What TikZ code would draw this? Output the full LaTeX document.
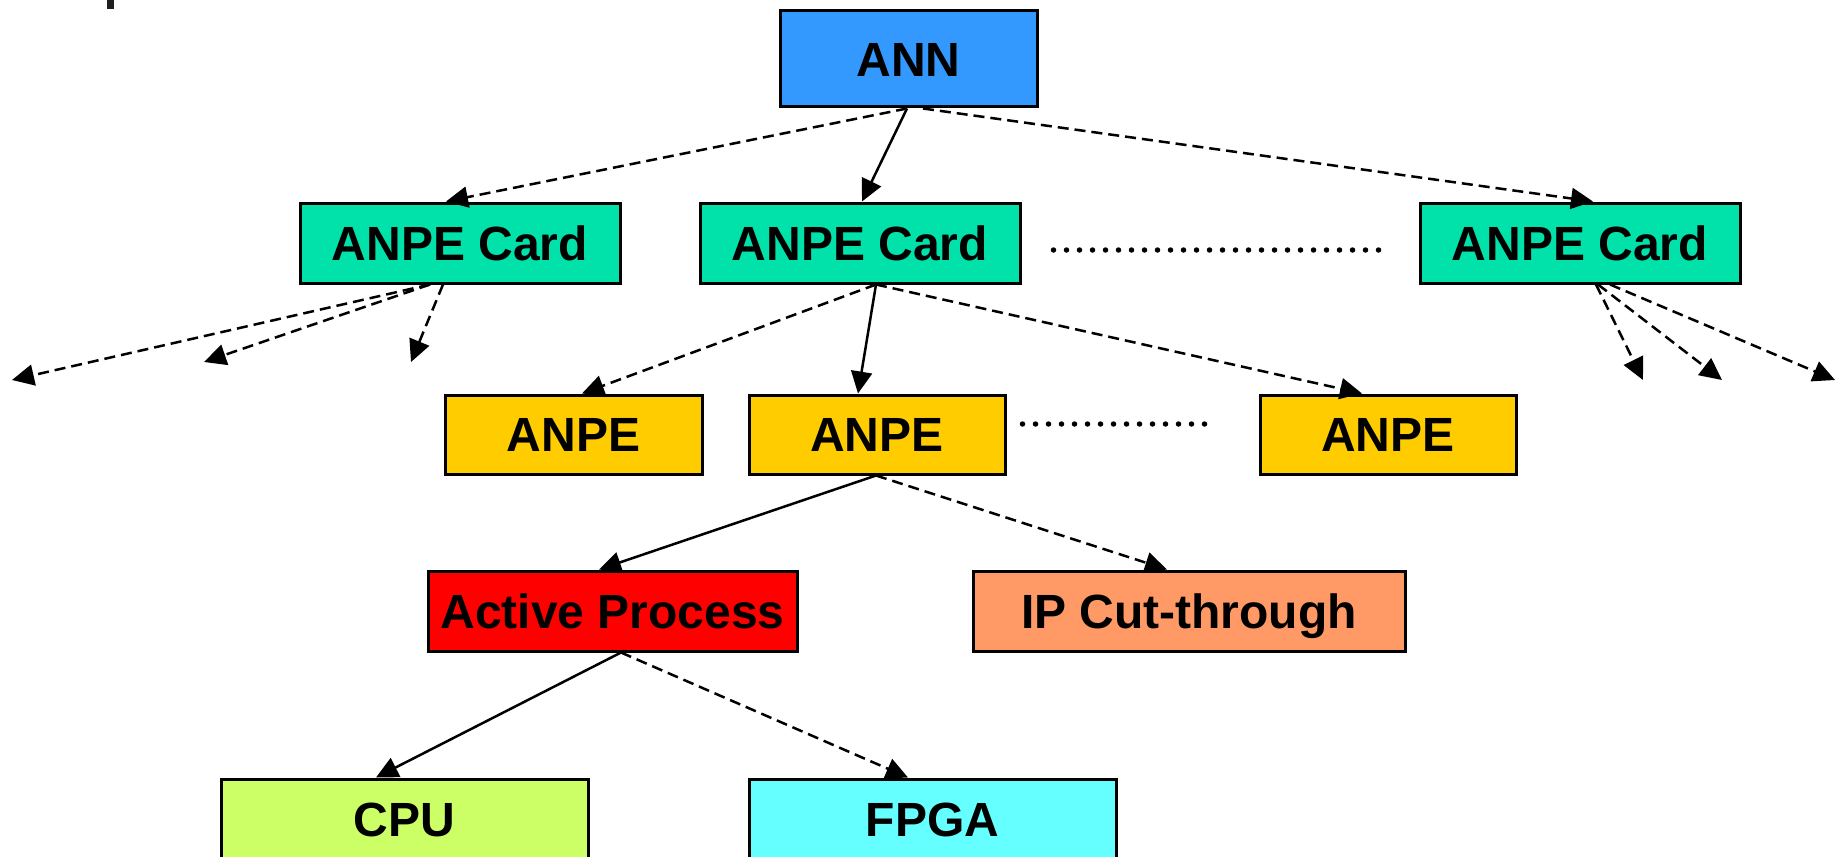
\documentclass[tikz,border=0pt]{standalone}
\usepackage{fontspec}
\setmainfont{Liberation Sans}
\usetikzlibrary{arrows.meta}
\definecolor{annblue}{RGB}{51,153,255}
\definecolor{cardgreen}{RGB}{0,226,170}
\definecolor{anpeyellow}{RGB}{255,204,0}
\definecolor{actred}{RGB}{255,0,0}
\definecolor{iporange}{RGB}{255,153,102}
\definecolor{cpugreen}{RGB}{204,255,102}
\definecolor{fpgacyan}{RGB}{102,255,255}
\tikzset{
  box/.style={draw=black, line width=3pt, rectangle, inner sep=0pt,
    font=\fontsize{48}{58}\selectfont\bfseries, text height=34.5pt, text depth=0pt},
  solidarrow/.style={line width=2.5pt, -{Triangle[length=22pt,width=21pt]}},
  dasharrow/.style={line width=2.5pt, dash pattern=on 11pt off 6pt, -{Triangle[length=22pt,width=21pt]}},
  dotline/.style={line width=5.5pt, line cap=round, dash pattern=on 0pt off 13pt}
}
\begin{document}
\begin{tikzpicture}[x=1pt,y=-1pt]
\useasboundingbox (0,0) rectangle (1843,856);
\fill[black!88] (107,0) rectangle (114,9);
% nodes
\node[box, fill=annblue, minimum width=257pt, minimum height=96pt] (ann) at (908.5,59) {ANN};
\node[box, fill=cardgreen, minimum width=320pt, minimum height=80pt] (card1) at (460,243) {ANPE Card};
\node[box, fill=cardgreen, minimum width=320pt, minimum height=80pt] (card2) at (860,243) {ANPE Card};
\node[box, fill=cardgreen, minimum width=320pt, minimum height=80pt] (card3) at (1580,243) {ANPE Card};
\node[box, fill=anpeyellow, minimum width=257pt, minimum height=79pt] (anpe1) at (573.5,434.5) {ANPE};
\node[box, fill=anpeyellow, minimum width=256pt, minimum height=79pt] (anpe2) at (877,434.5) {ANPE};
\node[box, fill=anpeyellow, minimum width=256pt, minimum height=79pt] (anpe3) at (1388,434.5) {ANPE};
\node[box, fill=actred, minimum width=369pt, minimum height=80pt] (active) at (612.5,611) {Active Process};
\node[box, fill=iporange, minimum width=432pt, minimum height=80pt] (ipcut) at (1189,611) {IP Cut-through};
\node[box, fill=cpugreen, minimum width=367pt, minimum height=80pt] (cpu) at (404.5,819) {CPU};
\node[box, fill=fpgacyan, minimum width=367pt, minimum height=80pt] (fpga) at (932.5,819) {FPGA};
% free ends
\coordinate (l1) at (12,380);
\coordinate (l2) at (204,362);
\coordinate (l3) at (411,362);
\coordinate (r1) at (1643,380);
\coordinate (r2) at (1722,380);
\coordinate (r3) at (1835,380);
% connectors from ANN
\draw[dasharrow] ([xshift=-1.5pt]ann.south) -- ([xshift=-14pt]card1.north);
\draw[solidarrow] ([xshift=-1.5pt]ann.south) -- ([xshift=2pt]card2.north);
\draw[dasharrow] ([xshift=14.5pt]ann.south) -- ([xshift=13pt]card3.north);
% card1 fan-out
\draw[dasharrow] ([xshift=-30pt]card1.south) -- (l1);
\draw[dasharrow] ([xshift=-30pt]card1.south) -- (l2);
\draw[dasharrow] ([xshift=-17pt]card1.south) -- (l3);
% card3 fan-out
\draw[dasharrow] ([xshift=16pt]card3.south) -- (r1);
\draw[dasharrow] ([xshift=18pt]card3.south) -- (r2);
\draw[dasharrow] ([xshift=30pt]card3.south) -- (r3);
% card2 to ANPEs
\draw[dasharrow] ([xshift=16pt]card2.south) -- ([xshift=8.5pt]anpe1.north);
\draw[solidarrow] ([xshift=16pt]card2.south) -- ([xshift=-19pt]anpe2.north);
\draw[dasharrow] ([xshift=16pt]card2.south) -- ([xshift=-26pt]anpe3.north);
% anpe2 children
\draw[solidarrow] ([xshift=-1pt]anpe2.south) -- ([xshift=-13.5pt]active.north);
\draw[dasharrow] ([xshift=-1pt]anpe2.south) -- ([xshift=-22pt]ipcut.north);
% active children
\draw[solidarrow] ([xshift=8.5pt]active.south) -- ([xshift=-28.5pt]cpu.north);
\draw[dasharrow] ([xshift=8.5pt]active.south) -- ([xshift=-24.5pt]fpga.north);
% dotted ellipses
\draw[dotline] ([xshift=32pt,yshift=-7pt]card2.east) -- ([xshift=-38pt,yshift=-7pt]card3.west);
\draw[dotline] ([xshift=16pt,yshift=10.5pt]anpe2.east) -- ([xshift=-42pt,yshift=10.5pt]anpe3.west);
\end{tikzpicture}
\end{document}
